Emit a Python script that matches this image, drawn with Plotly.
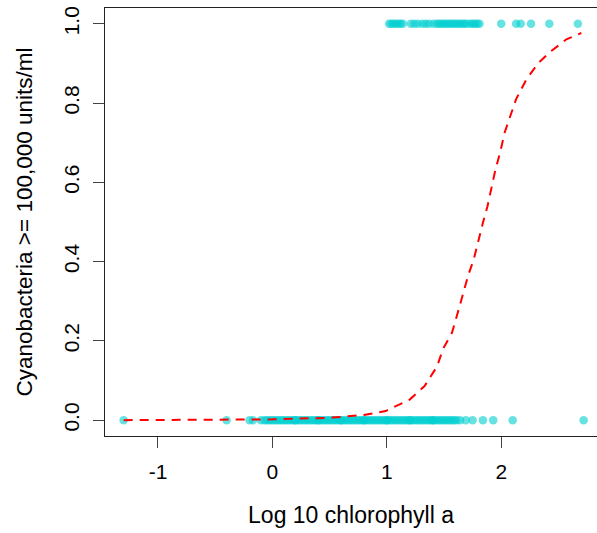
import plotly.graph_objects as go

# Observations with response 0 (log10 chlorophyll a)
x_zero = [-1.30, -0.40, -0.20, -0.17, -0.10, -0.07, -0.05, -0.03, -0.01, 0.01, 0.03,
          0.05, 0.07, 0.09, 0.11, 0.13, 0.15, 0.17, 0.19, 0.21, 0.23, 0.25, 0.27,
          0.29, 0.31, 0.33, 0.35, 0.37, 0.39, 0.41, 0.43, 0.45, 0.47, 0.49, 0.51,
          0.53, 0.55, 0.57, 0.59, 0.61, 0.63, 0.65, 0.67, 0.69, 0.71, 0.73, 0.75,
          0.77, 0.79, 0.81, 0.83, 0.85, 0.87, 0.89, 0.91, 0.93, 0.95, 0.97, 0.99,
          1.01, 1.03, 1.05, 1.07, 1.09, 1.11, 1.13, 1.15, 1.17, 1.19, 1.21, 1.23,
          1.25, 1.27, 1.29, 1.31, 1.33, 1.35, 1.37, 1.39, 1.41, 1.43, 1.45, 1.47,
          1.49, 1.51, 1.53, 1.55, 1.57, 1.59, 1.61, 1.64, 1.69, 1.75, 1.84, 1.93,
          2.10, 2.72, 0.2, 0.4, 0.6, 0.8, 1.0, 1.2, 1.4]
# Observations with response 1
x_one = [1.02, 1.04, 1.06, 1.08, 1.10, 1.12, 1.14, 1.21, 1.24, 1.27, 1.31, 1.34,
         1.37, 1.41, 1.44, 1.46, 1.48, 1.50, 1.52, 1.54, 1.56, 1.58, 1.60, 1.62,
         1.64, 1.66, 1.68, 1.70, 1.73, 1.75, 1.77, 1.79, 1.81, 2.00, 2.13, 2.17,
         2.26, 2.42, 2.67]

# Fitted probability curve
curve_x = [-1.30, -0.40, 0.00, 0.50, 0.80, 0.99, 1.20, 1.33, 1.44, 1.49, 1.57, 1.62,
           1.67, 1.71, 1.76, 1.80, 1.84, 1.88, 1.92, 1.95, 1.99, 2.03, 2.08, 2.13,
           2.22, 2.33, 2.44, 2.57, 2.70]
curve_y = [0.000, 0.0005, 0.002, 0.006, 0.013, 0.023, 0.052, 0.086, 0.136, 0.179,
           0.221, 0.271, 0.322, 0.364, 0.406, 0.456, 0.498, 0.540, 0.591, 0.633,
           0.675, 0.726, 0.768, 0.810, 0.860, 0.903, 0.932, 0.961, 0.977]

x_ticks = [-1, 0, 1, 2]
y_ticks = [0.0, 0.2, 0.4, 0.6, 0.8, 1.0]
y_tick_text = ["0.0", "0.2", "0.4", "0.6", "0.8", "1.0"]

pt_color = "rgba(0,206,209,0.6)"
font = "Liberation Sans, Arial, sans-serif"

fig = go.Figure()
fig.add_trace(go.Scatter(x=x_zero, y=[0] * len(x_zero), mode="markers",
                         marker=dict(size=8.5, color=pt_color, line=dict(width=0)),
                         hoverinfo="x+y"))
fig.add_trace(go.Scatter(x=x_one, y=[1] * len(x_one), mode="markers",
                         marker=dict(size=8.5, color=pt_color, line=dict(width=0)),
                         hoverinfo="x+y"))
fig.add_trace(go.Scatter(x=curve_x, y=curve_y, mode="lines",
                         line=dict(color="#FF0000", width=2, dash="9px,7px"),
                         hoverinfo="skip"))

fig.update_layout(
    width=597, height=533,
    margin=dict(l=105, r=0, t=8, b=97),
    plot_bgcolor="white", paper_bgcolor="white",
    showlegend=False,
    font=dict(family=font, size=21, color="black"),
)
fig.update_xaxes(
    range=[-1.463, 2.837], tickvals=x_ticks, ticktext=[str(v) for v in x_ticks],
    showgrid=False, zeroline=False,
    showline=True, linecolor="#222", linewidth=1, mirror=True,
    ticks="outside", ticklen=11, tickcolor="#444", tickwidth=1,
    ticklabelstandoff=6,
    title=dict(text="Log 10 chlorophyll a", standoff=24, font=dict(size=23)),
)
fig.update_yaxes(
    range=[-0.04, 1.04], tickvals=y_ticks, ticktext=y_tick_text,
    showgrid=False, zeroline=False,
    showline=True, linecolor="#222", linewidth=1, mirror=False,
    ticks="outside", ticklen=11, tickcolor="#444", tickwidth=1,
    tickangle=-90, ticklabelstandoff=6,
    title=dict(text="Cyanobacteria >= 100,000 units/ml", standoff=20, font=dict(size=22.5)),
)

fig.write_html("out.html")
